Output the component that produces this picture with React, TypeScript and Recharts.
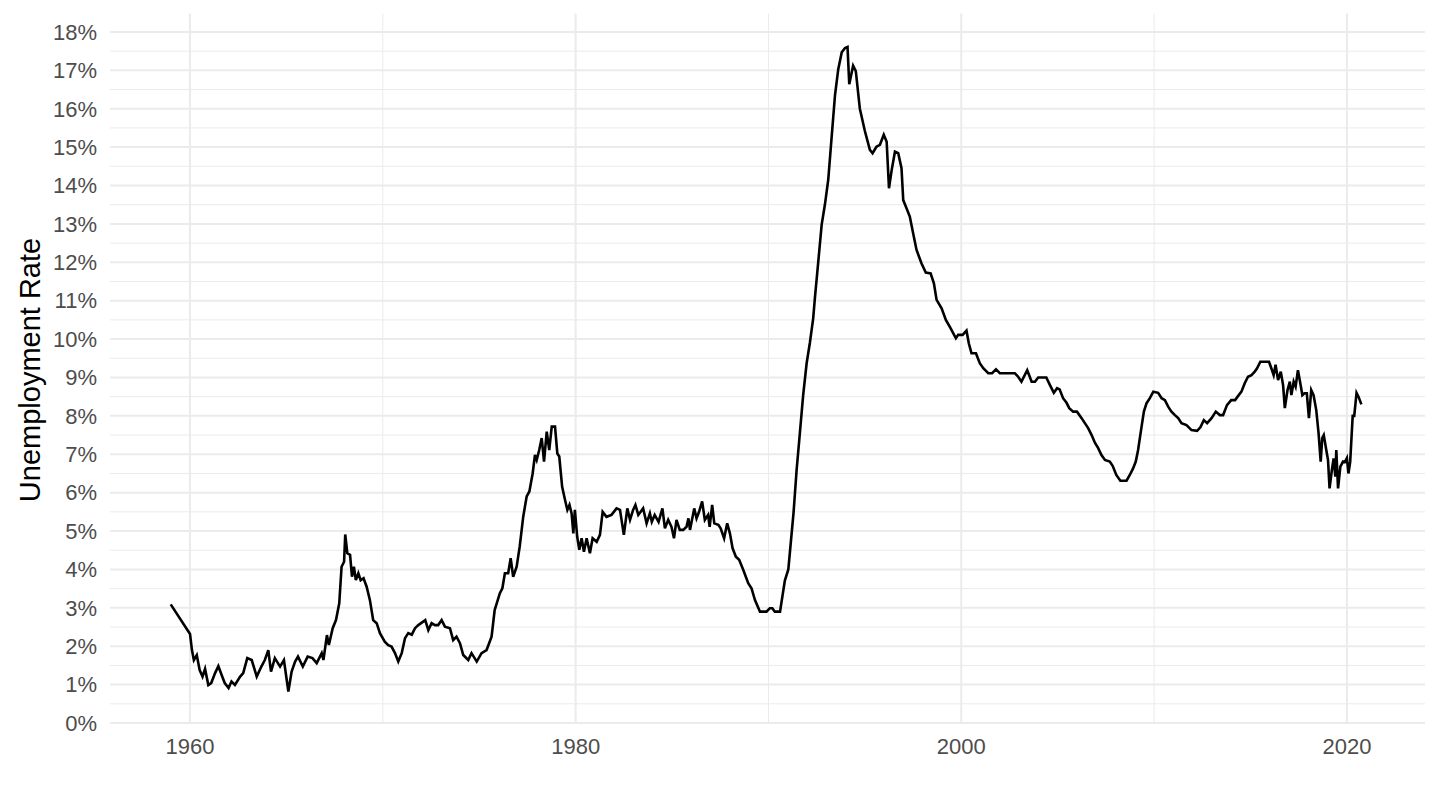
import { CartesianGrid, Line, LineChart, XAxis, YAxis } from "recharts";

const FONT = '"Liberation Sans", Arial, Helvetica, sans-serif';

// axis ticks and grid positions (in data units)
const yearTicks = [1960, 1980, 2000, 2020];
const yearMinor = [1970, 1990, 2010];
const rateTicks = [0, 1, 2, 3, 4, 5, 6, 7, 8, 9, 10, 11, 12, 13, 14, 15, 16, 17, 18];
const rateMinor = [0.5, 1.5, 2.5, 3.5, 4.5, 5.5, 6.5, 7.5, 8.5, 9.5, 10.5, 11.5, 12.5, 13.5, 14.5, 15.5, 16.5, 17.5];
const yearDomain: [number, number] = [1955.85, 2024.05];
const rateDomain: [number, number] = [0, 18.48];

// unemployment rate (%), [year, rate]
const rates1959to1971: [number, number][] = [
  [1959.0, 3.09], [1960.0, 2.32], [1960.1, 1.9], [1960.2, 1.64], [1960.35, 1.77], [1960.5, 1.38],
  [1960.65, 1.21], [1960.78, 1.41], [1960.95, 0.99], [1961.1, 1.04], [1961.3, 1.3], [1961.47, 1.48],
  [1961.64, 1.25], [1961.8, 1.04], [1962.0, 0.91], [1962.15, 1.08], [1962.33, 0.99], [1962.6, 1.21],
  [1962.76, 1.3], [1962.97, 1.69], [1963.2, 1.64], [1963.46, 1.21], [1963.7, 1.47], [1963.88, 1.64],
  [1964.06, 1.9], [1964.2, 1.34], [1964.4, 1.69], [1964.67, 1.47], [1964.87, 1.64], [1965.1, 0.82],
  [1965.27, 1.34], [1965.45, 1.6], [1965.6, 1.73], [1965.85, 1.47], [1966.1, 1.73], [1966.35, 1.69],
  [1966.57, 1.56], [1966.83, 1.82], [1966.92, 1.64], [1967.1, 2.29], [1967.2, 2.03], [1967.4, 2.47],
  [1967.57, 2.68], [1967.74, 3.12], [1967.86, 4.07], [1967.99, 4.2], [1968.05, 4.91], [1968.16, 4.42],
  [1968.3, 4.38], [1968.4, 3.81], [1968.5, 4.07], [1968.6, 3.72], [1968.73, 3.9], [1968.85, 3.72],
  [1969.0, 3.77], [1969.16, 3.55], [1969.33, 3.2], [1969.5, 2.68], [1969.68, 2.6], [1969.85, 2.34],
  [1970.1, 2.12], [1970.28, 2.03], [1970.45, 1.99], [1970.63, 1.82], [1970.8, 1.6], [1970.98, 1.82],
  [1971.15, 2.21], [1971.32, 2.34], [1971.5, 2.3], [1971.67, 2.47], [1971.84, 2.55],
];

const rates1972to1983: [number, number][] = [
  [1972.2, 2.68], [1972.36, 2.42], [1972.53, 2.6], [1972.7, 2.55], [1972.87, 2.55], [1973.05, 2.68],
  [1973.22, 2.51], [1973.48, 2.47], [1973.65, 2.16], [1973.82, 2.25], [1974.0, 2.08], [1974.17, 1.77],
  [1974.43, 1.64], [1974.6, 1.82], [1974.87, 1.6], [1975.12, 1.82], [1975.38, 1.9], [1975.64, 2.25],
  [1975.8, 2.94], [1976.07, 3.38], [1976.2, 3.51], [1976.33, 3.9], [1976.5, 3.9], [1976.63, 4.29],
  [1976.76, 3.81], [1976.94, 4.07], [1977.1, 4.6], [1977.28, 5.37], [1977.46, 5.9], [1977.6, 6.03],
  [1977.77, 6.5], [1977.89, 6.98], [1977.98, 6.85], [1978.11, 7.11], [1978.24, 7.42], [1978.36, 6.81],
  [1978.5, 7.59], [1978.63, 7.11], [1978.76, 7.72], [1978.93, 7.72], [1979.05, 7.02], [1979.15, 6.94],
  [1979.3, 6.15], [1979.45, 5.81], [1979.57, 5.55], [1979.68, 5.68], [1979.79, 5.46], [1979.88, 4.94],
  [1979.96, 5.55], [1980.08, 4.85], [1980.19, 4.51], [1980.31, 4.81], [1980.43, 4.46], [1980.57, 4.81],
  [1980.74, 4.42], [1980.88, 4.81], [1981.09, 4.72], [1981.26, 4.9], [1981.4, 5.5], [1981.6, 5.37],
  [1981.86, 5.42], [1982.12, 5.59], [1982.3, 5.55], [1982.5, 4.9], [1982.68, 5.59], [1982.82, 5.29],
  [1982.98, 5.55], [1983.1, 5.68], [1983.25, 5.42], [1983.5, 5.59], [1983.68, 5.2], [1983.85, 5.46],
];

const rates1984to1995: [number, number][] = [
  [1983.95, 5.24], [1984.1, 5.42], [1984.3, 5.24], [1984.5, 5.59], [1984.63, 5.07], [1984.8, 5.29],
  [1984.97, 5.11], [1985.1, 4.81], [1985.23, 5.29], [1985.4, 5.03], [1985.58, 5.03], [1985.75, 5.11],
  [1985.85, 5.33], [1985.93, 5.03], [1986.15, 5.59], [1986.27, 5.33], [1986.4, 5.5], [1986.56, 5.77],
  [1986.7, 5.29], [1986.87, 5.42], [1986.95, 5.11], [1987.08, 5.68], [1987.19, 5.2], [1987.4, 5.16],
  [1987.52, 5.07], [1987.7, 4.81], [1987.86, 5.2], [1988.0, 4.94], [1988.14, 4.55], [1988.31, 4.33],
  [1988.48, 4.25], [1988.69, 3.99], [1988.95, 3.64], [1989.12, 3.51], [1989.3, 3.2], [1989.56, 2.9],
  [1989.9, 2.9], [1990.07, 2.99], [1990.2, 2.99], [1990.33, 2.9], [1990.6, 2.9], [1990.85, 3.71],
  [1991.03, 4.0], [1991.3, 5.47], [1991.46, 6.59], [1991.63, 7.56], [1991.8, 8.54], [1991.98, 9.37],
  [1992.15, 9.91], [1992.32, 10.54], [1992.41, 11.08], [1992.58, 12.0], [1992.76, 12.98], [1992.93, 13.51],
  [1993.1, 14.15], [1993.27, 15.22], [1993.45, 16.35], [1993.62, 17.03], [1993.8, 17.47], [1993.97, 17.58],
  [1994.1, 17.61], [1994.19, 16.64], [1994.39, 17.12], [1994.53, 16.98], [1994.74, 16.0], [1995.0, 15.42],
  [1995.26, 14.93], [1995.4, 14.84], [1995.6, 15.01], [1995.78, 15.06], [1995.98, 15.32],
];

const rates1996to2007: [number, number][] = [
  [1996.13, 15.14], [1996.25, 13.93], [1996.39, 14.4], [1996.56, 14.88], [1996.73, 14.84], [1996.9, 14.45],
  [1996.99, 13.62], [1997.16, 13.41], [1997.33, 13.19], [1997.5, 12.76], [1997.68, 12.32], [1997.94, 11.97],
  [1998.16, 11.73], [1998.41, 11.71], [1998.58, 11.45], [1998.72, 11.02], [1998.98, 10.8], [1999.2, 10.5],
  [1999.45, 10.28], [1999.72, 10.02], [1999.84, 10.11], [2000.07, 10.11], [2000.27, 10.22], [2000.39, 9.89],
  [2000.53, 9.63], [2000.76, 9.63], [2000.96, 9.37], [2001.14, 9.24], [2001.4, 9.11], [2001.6, 9.11],
  [2001.8, 9.21], [2002.0, 9.11], [2002.4, 9.11], [2002.78, 9.11], [2002.95, 9.02], [2003.12, 8.89],
  [2003.42, 9.19], [2003.65, 8.89], [2003.82, 8.89], [2003.99, 9.0], [2004.41, 9.0], [2004.6, 8.8],
  [2004.8, 8.6], [2004.97, 8.72], [2005.1, 8.69], [2005.28, 8.46], [2005.46, 8.34], [2005.6, 8.2],
  [2005.8, 8.11], [2006.0, 8.11], [2006.24, 7.94], [2006.41, 7.81], [2006.58, 7.68], [2006.76, 7.5],
  [2006.93, 7.3], [2007.1, 7.16], [2007.27, 6.98], [2007.45, 6.85], [2007.7, 6.81], [2007.85, 6.7],
];

const rates2008to2020: [number, number][] = [
  [2008.04, 6.46], [2008.25, 6.31], [2008.57, 6.31], [2008.74, 6.46], [2008.91, 6.63], [2009.05, 6.81],
  [2009.17, 7.11], [2009.3, 7.55], [2009.47, 8.11], [2009.61, 8.33], [2009.78, 8.46], [2009.96, 8.63],
  [2010.21, 8.6], [2010.39, 8.46], [2010.56, 8.41], [2010.73, 8.24], [2010.9, 8.11], [2011.08, 8.02],
  [2011.25, 7.94], [2011.42, 7.81], [2011.68, 7.76], [2011.94, 7.63], [2012.23, 7.61], [2012.4, 7.7],
  [2012.58, 7.89], [2012.75, 7.81], [2012.98, 7.94], [2013.2, 8.11], [2013.41, 8.02], [2013.58, 8.02],
  [2013.78, 8.28], [2014.0, 8.41], [2014.2, 8.41], [2014.36, 8.52], [2014.53, 8.63], [2014.7, 8.85],
  [2014.87, 9.02], [2015.05, 9.06], [2015.22, 9.15], [2015.34, 9.24], [2015.51, 9.41], [2015.96, 9.41],
  [2016.08, 9.24], [2016.2, 9.06], [2016.3, 9.33], [2016.43, 8.93], [2016.57, 9.15], [2016.69, 8.8],
  [2016.78, 8.2], [2016.92, 8.67], [2017.04, 8.89], [2017.12, 8.54], [2017.24, 8.89], [2017.34, 8.76],
  [2017.46, 9.19], [2017.57, 8.89], [2017.69, 8.54], [2017.8, 8.59], [2017.92, 8.59], [2018.03, 7.94],
  [2018.15, 8.67], [2018.27, 8.54], [2018.41, 8.15], [2018.53, 7.55], [2018.64, 6.81], [2018.72, 7.42],
  [2018.8, 7.5], [2018.93, 7.11], [2019.02, 6.85], [2019.1, 6.11], [2019.22, 6.59], [2019.31, 6.89],
  [2019.4, 6.42], [2019.45, 7.11], [2019.54, 6.11], [2019.66, 6.68], [2019.8, 6.81], [2019.9, 6.8],
  [2020.0, 6.9], [2020.08, 6.5], [2020.17, 6.8], [2020.3, 8.0], [2020.38, 8.0], [2020.5, 8.6],
  [2020.6, 8.5], [2020.75, 8.3],
];

const series = [...rates1959to1971, ...rates1972to1983, ...rates1984to1995, ...rates1996to2007, ...rates2008to2020];
const data = series.map(([year, rate]) => ({ year, rate }));

const tickStyle = { fill: "#4D4D4D", fontSize: 22, fontFamily: FONT };

export default function App() {
  return (
    <div style={{ position: "absolute", left: 0, top: 0, width: 1440, height: 810, background: "#fff", fontFamily: FONT }}>
      <LineChart width={1440} height={810} data={data} margin={{ top: 13.5, right: 15, bottom: 0, left: 0 }}>
        {/* minor grid, driven by two hidden axes */}
        <CartesianGrid xAxisId="minor" yAxisId="minor" syncWithTicks stroke="#EBEBEB" strokeWidth={1} />
        <CartesianGrid syncWithTicks stroke="#EBEBEB" strokeWidth={2} />
        <XAxis xAxisId="minor" dataKey="year" type="number" domain={yearDomain} ticks={yearMinor} allowDataOverflow hide />
        <YAxis yAxisId="minor" type="number" domain={rateDomain} ticks={rateMinor} allowDataOverflow hide />
        <XAxis
          dataKey="year"
          type="number"
          domain={yearDomain}
          ticks={yearTicks}
          interval={0}
          allowDataOverflow
          axisLine={false}
          tickLine={false}
          tickSize={0}
          tickMargin={15}
          height={87}
          tick={tickStyle}
        />
        <YAxis
          type="number"
          domain={rateDomain}
          ticks={rateTicks}
          interval={0}
          allowDataOverflow
          axisLine={false}
          tickLine={false}
          tickSize={0}
          tickMargin={13}
          width={110}
          tick={tickStyle}
          tickFormatter={(v: number) => `${v}%`}
        />
        <Line type="linear" dataKey="rate" stroke="#000" strokeWidth={2.6} dot={false} isAnimationActive={false} />
      </LineChart>
      <div
        style={{
          position: "absolute",
          left: 30,
          top: 370,
          transform: "translate(-50%, -50%) rotate(-90deg)",
          whiteSpace: "nowrap",
          fontSize: 29,
          color: "#000",
        }}
      >
        Unemployment Rate
      </div>
    </div>
  );
}
